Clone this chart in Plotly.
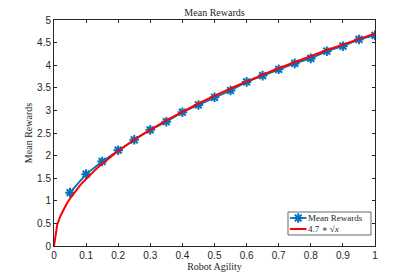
import numpy as np
import plotly.graph_objects as go

agility = [0.05, 0.10, 0.15, 0.20, 0.25, 0.30, 0.35, 0.40, 0.45, 0.50,
           0.55, 0.60, 0.65, 0.70, 0.75, 0.80, 0.85, 0.90, 0.95, 1.00]
mean_rewards = [1.18, 1.59, 1.87, 2.12, 2.35, 2.57, 2.75, 2.96, 3.12, 3.29,
                3.44, 3.63, 3.77, 3.91, 4.04, 4.15, 4.31, 4.42, 4.57, 4.66]
fit_coef = 4.7
fit_x = [i / 100 for i in range(101)]
fit_y = [fit_coef * np.sqrt(v) for v in fit_x]

x_ticks = [0, 0.1, 0.2, 0.3, 0.4, 0.5, 0.6, 0.7, 0.8, 0.9, 1]
x_labels = ["0", "0.1", "0.2", "0.3", "0.4", "0.5", "0.6", "0.7", "0.8", "0.9", "1"]
y_ticks = [0, 0.5, 1, 1.5, 2, 2.5, 3, 3.5, 4, 4.5, 5]
y_labels = ["0", "0.5", "1", "1.5", "2", "2.5", "3", "3.5", "4", "4.5", "5"]
legend_names = ["Mean Rewards", "4.7 ∗ √<i>x</i>"]

BLUE = "#0072BD"
RED = "#FF0000"
INK = "#262626"
serif = "Liberation Serif, DejaVu Serif, serif"
sans = "Liberation Sans, Arial, sans-serif"

fig = go.Figure()
fig.add_trace(go.Scatter(
    x=agility, y=mean_rewards, mode="lines+markers", name=legend_names[0],
    line=dict(color=BLUE, width=1.8),
    marker=dict(symbol="asterisk-open", size=8, color=BLUE,
                line=dict(color=BLUE, width=2)),
))
fig.add_trace(go.Scatter(
    x=fit_x, y=fit_y, mode="lines", name=legend_names[1],
    line=dict(color=RED, width=2),
))

# compact MATLAB-style legend (drawn on an invisible overlay axis in [0,1] units)
lx0, lx1, ly0, ly1 = 0.729, 0.9875, 0.0487, 0.1504
row_y = [0.1239, 0.0752]
samp_x0, samp_x1 = 0.735, 0.7866
fig.add_shape(type="rect", xref="paper", yref="paper", x0=lx0, x1=lx1, y0=ly0, y1=ly1,
              line=dict(color=INK, width=0.7), fillcolor="white", layer="below")
fig.add_trace(go.Scatter(x=[samp_x0, samp_x1], y=[row_y[0]] * 2, xaxis="x2", yaxis="y2",
                         mode="lines", line=dict(color=BLUE, width=1.8), showlegend=False,
                         hoverinfo="skip"))
fig.add_trace(go.Scatter(x=[(samp_x0 + samp_x1) / 2], y=[row_y[0]], xaxis="x2", yaxis="y2",
                         mode="markers", marker=dict(symbol="asterisk-open", size=8, color=BLUE,
                                                     line=dict(color=BLUE, width=2)),
                         showlegend=False, hoverinfo="skip"))
fig.add_trace(go.Scatter(x=[samp_x0, samp_x1], y=[row_y[1]] * 2, xaxis="x2", yaxis="y2",
                         mode="lines", line=dict(color=RED, width=2), showlegend=False,
                         hoverinfo="skip"))
for name, yy in zip(legend_names, row_y):
    fig.add_annotation(x=samp_x1 + 0.002, y=yy, xref="paper", yref="paper", text=name,
                       showarrow=False, xanchor="left", yanchor="middle", borderpad=0,
                       font=dict(family=serif, size=9, color=INK))

axis_common = dict(
    showgrid=False, zeroline=False, showline=True, linecolor=INK,
    linewidth=1, mirror="ticks", ticks="inside", ticklen=3, tickcolor=INK,
    tickfont=dict(family=sans, size=10, color=INK), automargin=False,
)
fig.update_xaxes(range=[0, 1], tickvals=x_ticks, ticktext=x_labels,
                 title=dict(text="Robot Agility", font=dict(family=serif, size=10, color=INK), standoff=1),
                 **axis_common)
fig.update_yaxes(range=[0, 5], tickvals=y_ticks, ticktext=y_labels,
                 title=dict(text="Mean Rewards", font=dict(family=serif, size=10, color=INK), standoff=2),
                 **axis_common)

fig.update_layout(
    width=415, height=277,
    margin=dict(l=54, r=40, t=20, b=31),
    paper_bgcolor="white", plot_bgcolor="white",
    title=dict(text="Mean Rewards", x=(54 + 375) / 2 / 415, xanchor="center", y=1 - 12.5 / 277,
               yanchor="middle", font=dict(family=serif, size=10, color=INK)),
    showlegend=False,
    xaxis2=dict(overlaying="x", range=[0, 1], visible=False, domain=[0, 1]),
    yaxis2=dict(overlaying="y", range=[0, 1], visible=False),
)

fig.write_html("out.html", config={"displayModeBar": False},
               post_script="document.body.style.margin='0';")
